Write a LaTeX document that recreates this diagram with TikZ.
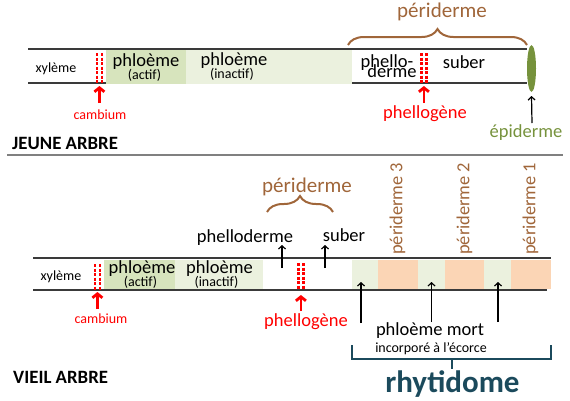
\documentclass[tikz,border=0pt]{standalone}
\usepackage{fontspec}
\setmainfont{Carlito}
\usetikzlibrary{arrows.meta,decorations.pathreplacing,shapes.geometric}
\definecolor{brn}{HTML}{A0663A}
\definecolor{epi}{HTML}{76923C}
\definecolor{rhyt}{HTML}{1B4A5C}
\definecolor{gA}{HTML}{D7E4BD}
\definecolor{gI}{HTML}{EBF1DE}
\definecolor{orng}{HTML}{FBD5B5}
\definecolor{linec}{HTML}{3A3A3A}
\tikzset{
  bar/.style={line width=1.8pt, draw=linec},
  camb/.style={red, line width=2.4pt, dash pattern=on 3.2pt off 1.3pt},
  redarrow/.style={red, line width=2.8pt, -{Straight Barb[length=4pt,width=10pt]}},
  blkarrow/.style={black, line width=1.2pt, -{Straight Barb[length=3.2pt,width=7pt]}},
  txt/.style={inner sep=0pt, anchor=base},
  big/.style={txt, font=\fontsize{18.5}{18}\selectfont},
  small/.style={txt, font=\fontsize{14}{14}\selectfont},
  title/.style={inner sep=0pt, anchor=base west, font=\fontsize{18.8}{19}\selectfont\bfseries},
  peri/.style={txt, text=brn, font=\fontsize{21}{21}\selectfont},
  vperi/.style={inner sep=0pt, anchor=mid west, rotate=90, text=brn, font=\fontsize{18.4}{18}\selectfont},
  bracebrn/.style={draw=brn, line width=2pt, decorate, decoration={brace, amplitude=16pt}},
  rbr/.style={draw=rhyt, line width=2pt},
}
\begin{document}
\begin{tikzpicture}[x=1pt,y=-1pt]
\useasboundingbox (0,0) rectangle (570,400);

% ================= JEUNE ARBRE =================
\draw[bar] (28,49) -- (527,49);
\draw[bar] (28,83) -- (527,83);
\fill[gA] (105.5,50) rectangle (186,83.8);
\fill[gI] (186,50) rectangle (352,83.8);

\draw[camb] (97,53) -- (97,83);
\draw[camb] (101.8,53) -- (101.8,83);
\draw[camb] (421.5,53) -- (421.5,83);
\draw[camb] (426.3,53) -- (426.3,83);

\node[small] (xy1) at (56,72) {xylème};
\node[big] (pa1) at (146,66) {phloème};
\node[small] (pa1b) at (144.5,79.5) {(actif)};
\node[big] (pi1) at (234,65) {phloème};
\node[small] (pi1b) at (232,78.5) {(inactif)};
\node[big] (pd1) at (387,67) {phello-};
\node[big] (pd1b) at (392,77.5) {derme};
\node[big] (sb1) at (464,68) {suber};

\node[ellipse, fill=epi, minimum width=9pt, minimum height=47pt, inner sep=0pt] (ep) at (531.5,68.5) {};

\node[small, text=red] (cb1) at (100,119) {cambium};
\node[big, text=red] (pg1) at (425,118) {phellogène};
\node[big, text=epi] (ep1) at (526,137) {épiderme};

\coordinate (cb1t) at (99.4,103);
\coordinate (cb1h) at (99.4,86);
\draw[redarrow] (cb1t) -- (cb1h);
\coordinate (pg1t) at (423.9,103);
\coordinate (pg1h) at (423.9,86);
\draw[redarrow] (pg1t) -- (pg1h);
\coordinate (ep1t) at (532,123);
\draw[blkarrow] (ep1t) -- (ep.south |- 0,96);

\coordinate (br1a) at (348,45);
\coordinate (br1b) at (527,45);
\draw[bracebrn] (br1a) -- (br1b);
\node[peri] (pe1) at (442,17) {périderme};

\node[title] (ja) at (12,149) {JEUNE ARBRE};
\coordinate (sepa) at (7,155);
\coordinate (sepb) at (563,155);
\draw[gray, line width=1.5pt] (sepa) -- (sepb);

% ================= VIEIL ARBRE =================
\draw[bar] (33,258) -- (551,258);
\draw[bar] (33,290) -- (547,290);
\fill[gA] (104,259.5) rectangle (175,289);
\fill[gI] (175,259.5) rectangle (263,289);
\fill[gI] (352,259.5) rectangle (378,289);
\fill[orng] (378,259.5) rectangle (418,289);
\fill[gI] (418,259.5) rectangle (445,289);
\fill[orng] (445,259.5) rectangle (484,289);
\fill[gI] (484,259.5) rectangle (511,289);
\fill[orng] (511,259.5) rectangle (551,289);

\draw[camb] (95,264) -- (95,290);
\draw[camb] (99.8,264) -- (99.8,290);
\draw[camb] (298.5,263) -- (298.5,289);
\draw[camb] (303.3,263) -- (303.3,289);

\node[small] (xy2) at (61,280) {xylème};
\node[big] (pa2) at (142,273) {phloème};
\node[small] (pa2b) at (140.5,286.5) {(actif)};
\node[big] (pi2) at (219.5,273) {phloème};
\node[small] (pi2b) at (216.5,286.5) {(inactif)};
\node[small, text=red] (cb2) at (101,323) {cambium};
\node[big, text=red] (pg2) at (306,326) {phellogène};
\node[big] (pd2) at (245,242) {phelloderme};
\node[big] (sb2) at (344,241) {suber};

\coordinate (cb2t) at (97.4,309);
\coordinate (cb2h) at (97.4,292);
\draw[redarrow] (cb2t) -- (cb2h);
\coordinate (pg2t) at (300.9,311);
\coordinate (pg2h) at (300.9,295);
\draw[redarrow] (pg2t) -- (pg2h);

\coordinate (pd2t) at (282,268);
\coordinate (pd2h) at (282,245);
\draw[blkarrow] (pd2t) -- (pd2h);
\coordinate (sb2t) at (325,268);
\coordinate (sb2h) at (325,245);
\draw[blkarrow] (sb2t) -- (sb2h);

\coordinate (br2a) at (267,212);
\coordinate (br2b) at (333,212);
\draw[bracebrn] (br2a) -- (br2b);
\node[peri] (pe2) at (307,192) {périderme};

\node[vperi] (p3) at (400,255) {périderme 3};
\node[vperi] (p2) at (467,255) {périderme 2};
\node[vperi] (p1) at (533,255) {périderme 1};

\coordinate (m1t) at (361,323);
\coordinate (m1h) at (361,282);
\coordinate (m2t) at (431.5,322);
\coordinate (m2h) at (431.5,282);
\coordinate (m3t) at (498,322);
\coordinate (m3h) at (498,282);
\draw[blkarrow] (m1t) -- (m1h);
\draw[blkarrow] (m2t) -- (m2h);
\draw[blkarrow] (m3t) -- (m3h);

\node[big] (pm) at (430,335) {phloème mort};
\node[small] (inc) at (431,352) {incorporé à l’écorce};

\coordinate (ra) at (352,345);
\coordinate (rb) at (352,359);
\coordinate (rc) at (551,359);
\coordinate (rd) at (551,345);
\coordinate (re) at (452,359);
\coordinate (rf) at (452,369);
\draw[rbr] (ra) -- (rb) -- (rc) -- (rd);
\draw[rbr] (re) -- (rf);
\node[txt, text=rhyt, font=\fontsize{31}{31}\selectfont\bfseries] (rh) at (452.5,392) {rhytidome};

\node[title] (va) at (13,383) {VIEIL ARBRE};
\end{tikzpicture}
\end{document}
